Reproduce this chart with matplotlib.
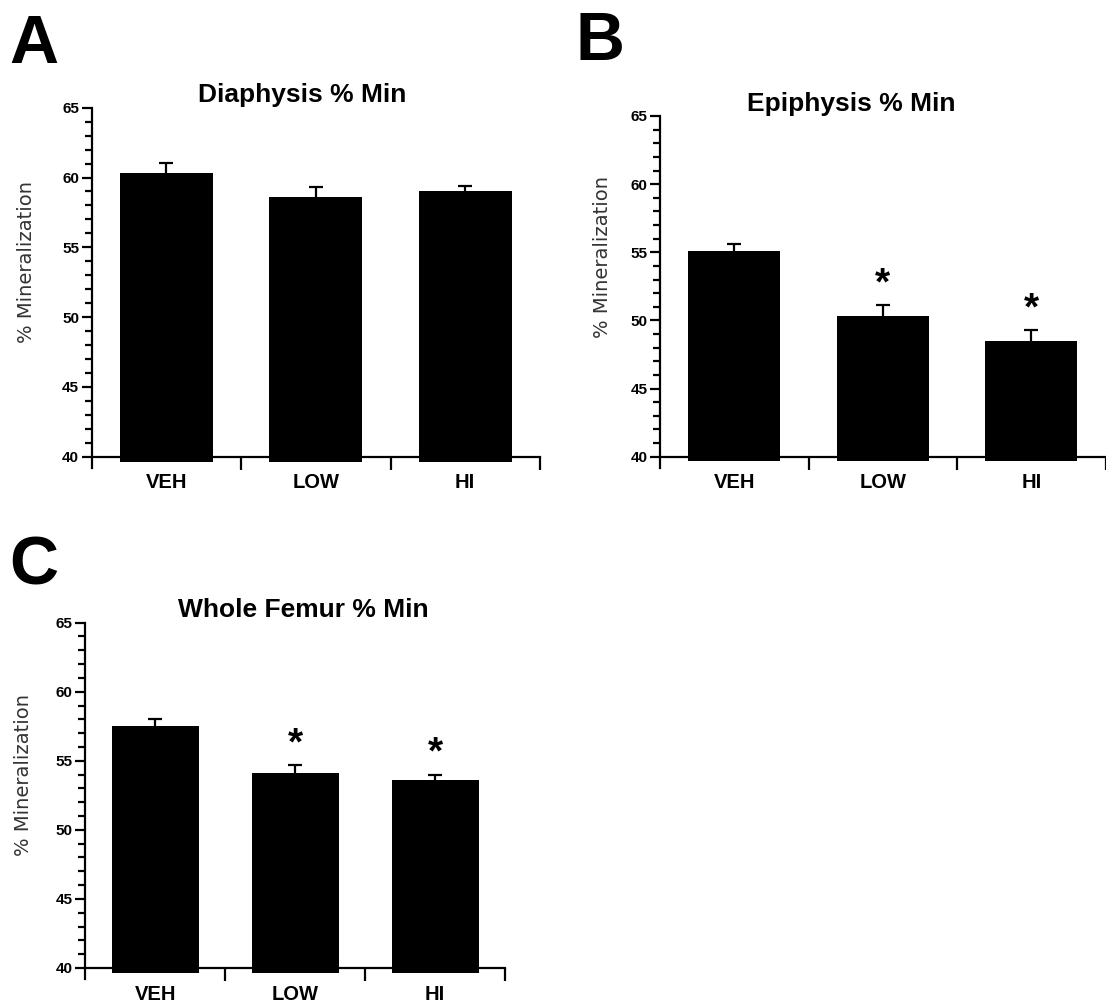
import matplotlib
matplotlib.use("Agg")
import matplotlib.pyplot as plt
from matplotlib.ticker import MultipleLocator, FixedLocator

# Data
groups = ["VEH", "LOW", "HI"]

diaphysis_mean = [60.3, 58.6, 59.0]
diaphysis_sem = [0.75, 0.75, 0.4]
diaphysis_sig = [False, False, False]

epiphysis_mean = [55.12, 50.35, 48.5]
epiphysis_sem = [0.5, 0.75, 0.8]
epiphysis_sig = [False, True, True]

femur_mean = [57.55, 54.1, 53.6]
femur_sem = [0.5, 0.6, 0.4]
femur_sig = [False, True, True]

plt.rcParams['font.family'] = ['Liberation Sans', 'DejaVu Sans']

fig = plt.figure(figsize=(11.06, 10.06), dpi=100)


def draw_panel(rect, title, means, sems, sig, title_x, ylab_xy):
    ax = fig.add_axes(rect)
    x = list(range(len(groups)))
    ax.bar(x, [m - 39.65 for m in means], bottom=39.65, width=0.62,
           color='black', zorder=3)
    # symmetric bars drawn behind the columns, so only the upper half shows
    ax.errorbar(x, means, yerr=sems, fmt='none',
                ecolor='black', elinewidth=1.6, capsize=5, capthick=1.6,
                zorder=2)
    for xi, m, s, flag in zip(x, means, sems, sig):
        if flag:
            ax.text(xi, m + s + 1.5, "*", ha='center', va='center',
                    fontsize=28, fontweight='bold')

    ax.set_xlim(-0.5, 2.5)
    ax.set_ylim(39.2, 65)
    for side in ('top', 'right'):
        ax.spines[side].set_visible(False)
    ax.spines['bottom'].set_position(('data', 40))
    ax.spines['bottom'].set_bounds(-0.5, 2.5)
    ax.spines['left'].set_linewidth(1.6)
    ax.spines['bottom'].set_linewidth(1.6)

    # y ticks
    ax.yaxis.set_major_locator(MultipleLocator(5))
    ax.yaxis.set_minor_locator(MultipleLocator(1))
    ax.tick_params(axis='y', which='major', length=7, width=1.6, pad=2,
                   labelsize=11)
    ax.tick_params(axis='y', which='minor', length=5, width=1.6)
    for lab in ax.get_yticklabels():
        lab.set_fontweight('bold')

    # x ticks: marks at the group boundaries, labels at the centres
    ax.xaxis.set_major_locator(FixedLocator([0.5, 1.5, 2.5]))
    ax.xaxis.set_minor_locator(FixedLocator(x))
    ax.set_xticklabels([], minor=False)
    ax.set_xticklabels(groups, minor=True, fontsize=14.5, fontweight='bold')
    ax.tick_params(axis='x', which='major', length=9, width=1.6,
                   direction='out')
    ax.tick_params(axis='x', which='minor', length=0, pad=12)

    ax.set_ylabel("% Mineralization", fontsize=14, color='#333333',
                  family='DejaVu Sans')
    ax.yaxis.set_label_coords(*ylab_xy)
    ax.text(title_x, 1.035, title, transform=ax.transAxes, ha='center',
            va='center', fontsize=19, fontweight='bold')
    return ax


draw_panel([0.0829, 0.5349, 0.4053, 0.358], "Diaphysis % Min",
           diaphysis_mean, diaphysis_sem, diaphysis_sig, 0.47, (-0.124, 0.572))
draw_panel([0.5967, 0.5352, 0.403, 0.3495], "Epiphysis % Min",
           epiphysis_mean, epiphysis_sem, epiphysis_sig, 0.43, (-0.107, 0.60))
draw_panel([0.0771, 0.0268, 0.3797, 0.3543], "Whole Femur % Min",
           femur_mean, femur_sem, femur_sig, 0.52, (-0.124, 0.572))

fig.text(0.008, 0.9374, "A", fontsize=49, fontweight='bold', va='baseline')
fig.text(0.520, 0.9404, "B", fontsize=49, fontweight='bold', va='baseline')
fig.text(0.008, 0.4185, "C", fontsize=49, fontweight='bold', va='baseline')

fig.savefig("out.png", dpi=100)
